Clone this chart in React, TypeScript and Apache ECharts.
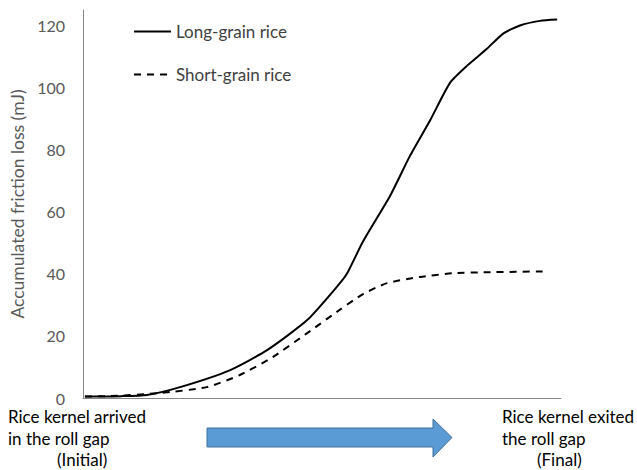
import React, { useEffect, useRef } from "react";
import * as echarts from "echarts";

const longX = [0.4, 8, 13.4, 20.3, 30.8, 38.5, 46.9, 53.1, 55.2, 58.6, 64.2, 68.4, 72.6, 76.8, 80.3, 84.5, 87.9, 91.4, 95.6, 99.2];
const longY = [0.5, 0.6, 1, 3.5, 9, 15.4, 25.1, 35.8, 40, 50.5, 65, 78, 89.4, 101.6, 107, 112.5, 117.4, 120, 121.5, 121.9];
const shortX = [0.4, 5.6, 16.1, 25.9, 32.8, 39.7, 46.9, 53.8, 58.6, 63.6, 70.5, 77.4, 84.5, 97.1];
const shortY = [0.5, 0.6, 1.6, 3.5, 7.4, 13.2, 20.9, 28.5, 33.5, 37, 39, 40.2, 40.5, 40.8];
const seriesNames = ["Long-grain rice", "Short-grain rice"];
const yTicks = { min: 0, max: 125, interval: 20 };
const leftLabels = ["Rice kernel arrived", "in the roll gap", "(Initial)"];
const rightLabels = ["Rice kernel exited", "the roll gap", "(Final)"];
const yTitle = "Accumulated friction loss (mJ)";

const FONT = "Lato, 'Open Sans', sans-serif";

export default function App() {
  const ref = useRef<HTMLDivElement>(null);
  useEffect(() => {
    if (!ref.current) return;
    const chart = echarts.init(ref.current, null, { renderer: "svg" });
    const textStyle = (x: number, y: number, t: string) => ({
      type: "text",
      left: x,
      top: y,
      style: { text: t, fill: "#000", font: `17px ${FONT}`, textVerticalAlign: "middle" },
    });
    chart.setOption({
      animation: false,
      grid: { left: 83, right: 76, top: 10, bottom: 72 },
      legend: {
        orient: "vertical",
        left: 128,
        top: 18,
        itemWidth: 37,
        itemHeight: 16,
        itemGap: 26,
        itemStyle: { opacity: 0 },
        textStyle: { color: "#404040", fontSize: 17, fontFamily: FONT },
        data: seriesNames,
      },
      xAxis: {
        type: "value",
        min: 0,
        max: 100,
        axisLine: { show: true, lineStyle: { color: "#868686", width: 1 } },
        axisTick: { show: false },
        axisLabel: { show: false },
        splitLine: { show: false },
      },
      yAxis: {
        type: "value",
        min: yTicks.min,
        max: yTicks.max,
        interval: yTicks.interval,
        name: yTitle,
        nameLocation: "middle",
        nameGap: 48,
        nameTextStyle: { color: "#595959", fontSize: 17.5, fontFamily: FONT },
        axisLine: { show: true, lineStyle: { color: "#868686", width: 1 } },
        axisTick: { show: false },
        axisLabel: { color: "#595959", fontSize: 16, fontFamily: FONT, margin: 18, showMaxLabel: false },
        splitLine: { show: false },
      },
      series: [
        {
          name: seriesNames[0],
          type: "line",
          data: longX.map((x, i) => [x, longY[i]]),
          symbol: "none",
          smooth: 0.2,
          lineStyle: { color: "#000", width: 2, type: "solid" },
          itemStyle: { color: "#000" },
        },
        {
          name: seriesNames[1],
          type: "line",
          data: shortX.map((x, i) => [x, shortY[i]]),
          symbol: "none",
          smooth: 0.2,
          lineStyle: { color: "#000", width: 2, type: [7, 6] },
          itemStyle: { color: "#000" },
        },
      ],
      graphic: [
        {
          type: "polygon",
          shape: {
            points: [
              [207, 428],
              [433, 428],
              [433, 419],
              [452, 437.5],
              [433, 457],
              [433, 447],
              [207, 447],
            ],
          },
          style: { fill: "#5B9BD5", stroke: "#41719C", lineWidth: 1 },
        },
        textStyle(8, 408, leftLabels[0]),
        textStyle(8, 430, leftLabels[1]),
        textStyle(57, 451, leftLabels[2]),
        textStyle(502, 408, rightLabels[0]),
        textStyle(502, 430, rightLabels[1]),
        textStyle(537, 451, rightLabels[2]),
      ],
    });
    return () => chart.dispose();
  }, []);
  return <div ref={ref} style={{ width: 637, height: 470, position: "absolute", left: 0, top: 0 }} />;
}
